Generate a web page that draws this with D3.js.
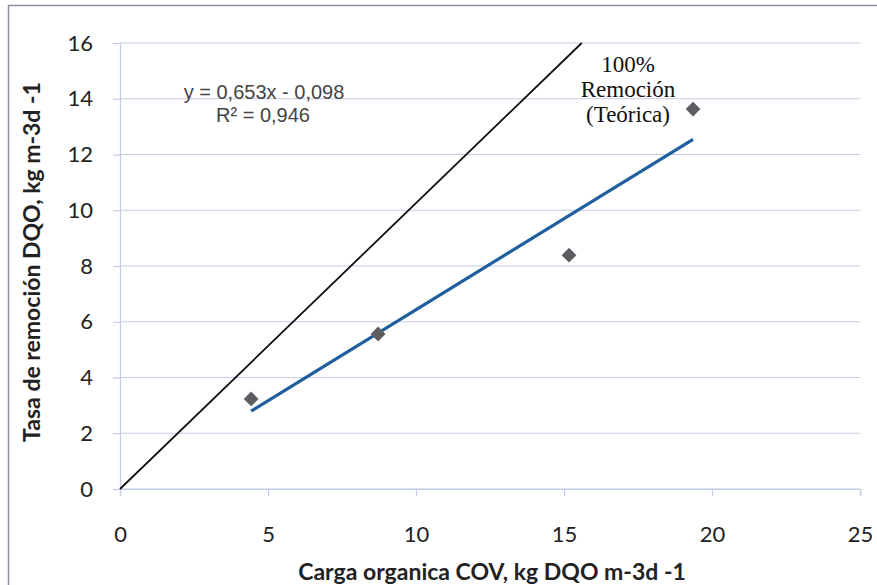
<!DOCTYPE html>
<html>
<head>
<meta charset="utf-8">
<script src="https://cdn.jsdelivr.net/npm/d3@7"></script>
<style>
  body { margin: 0; background: #fff; }
  svg { display: block; }
</style>
</head>
<body>
<svg id="chart" width="877" height="585"></svg>
<script>
// Measured points (Carga organica COV vs Tasa de remocion DQO)
const cargaCOV = [4.43, 8.72, 15.17, 19.36]
const tasaRemocion = [3.23, 5.56, 8.39, 13.63]

// Linear trend as printed on the chart
const trendSlope = 0.653
const trendIntercept = -0.098

// Theoretical 100% removal line, as drawn
const teoricaX = [0, 15.6]
const teoricaY = [0, 16]

const xTicks = [0, 5, 10, 15, 20, 25]
const yTicks = [0, 2, 4, 6, 8, 10, 12, 14, 16]

const svg = d3.select('#chart')

// outer frame (only top and left visible in the crop)
svg.append('path')
    .attr('d', 'M8.5,600 V5.5 H900')
    .attr('fill', 'none').attr('stroke', '#8a93a8').attr('stroke-width', 1.5)

const x = d3.scaleLinear().domain([0, 25]).range([120, 860])
const y = d3.scaleLinear().domain([0, 16]).range([489, 43])

const gridColor = '#c3cce6'
const tickFont = 'Lato, "Open Sans", sans-serif'

// horizontal gridlines
svg.append('g')
    .selectAll('line').data(yTicks).join('line')
    .attr('x1', x(0)).attr('x2', x(25))
    .attr('y1', d => y(d)).attr('y2', d => y(d))
    .attr('stroke', gridColor).attr('stroke-width', 1.2)

// y axis
const yAxis = svg.append('g')
    .attr('transform', `translate(${x(0)},0)`)
    .call(d3.axisLeft(y).tickValues(yTicks).tickSize(7).tickPadding(20))
yAxis.select('.domain').attr('stroke', gridColor).attr('stroke-width', 1.2)
yAxis.selectAll('.tick line').attr('stroke', gridColor).attr('stroke-width', 1.2)
yAxis.selectAll('.tick text')
    .attr('font-family', tickFont)
    .attr('font-size', 22).attr('fill', '#222')

// x axis
const xAxis = svg.append('g')
    .attr('transform', `translate(0,${y(0)})`)
    .call(d3.axisBottom(x).tickValues(xTicks).tickSize(7).tickPadding(30))
xAxis.select('.domain').attr('stroke', gridColor).attr('stroke-width', 1.2)
xAxis.selectAll('.tick line').attr('stroke', gridColor).attr('stroke-width', 1.2)
xAxis.selectAll('.tick text')
    .attr('font-family', tickFont)
    .attr('font-size', 22).attr('fill', '#222')

// axis titles
svg.append('text')
    .attr('transform', `translate(40,${(y(0) + y(16)) / 2 - 4}) rotate(-90)`)
    .attr('text-anchor', 'middle')
    .attr('font-family', tickFont)
    .attr('font-weight', 'bold').attr('font-size', 23).attr('fill', '#222')
    .text('Tasa de remoción DQO, kg m-3d -1')

svg.append('text')
    .attr('x', 492).attr('y', 580)
    .attr('text-anchor', 'middle')
    .attr('font-family', tickFont)
    .attr('font-weight', 'bold').attr('font-size', 23).attr('fill', '#222')
    .text('Carga organica COV, kg DQO m-3d -1')

// theoretical 100% line
svg.append('path')
    .datum(d3.zip(teoricaX, teoricaY))
    .attr('d', d3.line().x(d => x(d[0])).y(d => y(d[1])))
    .attr('fill', 'none').attr('stroke', '#111').attr('stroke-width', 1.8)

// trend line across the data range
const xr = d3.extent(cargaCOV)
svg.append('path')
    .datum(xr.map(v => [v, trendSlope * v + trendIntercept]))
    .attr('d', d3.line().x(d => x(d[0])).y(d => y(d[1])))
    .attr('fill', 'none').attr('stroke', '#1f5f9e').attr('stroke-width', 3.2)

// markers
svg.append('g')
    .selectAll('path').data(d3.zip(cargaCOV, tasaRemocion)).join('path')
    .attr('transform', d => `translate(${x(d[0])},${y(d[1])})`)
    .attr('d', d3.symbol(d3.symbolDiamond2, 140))
    .attr('fill', '#5b5d60')

// equation
const eq = svg.append('text')
    .attr('text-anchor', 'middle')
    .attr('font-family', '"Liberation Sans", Arial, sans-serif')
    .attr('font-size', 20).attr('fill', '#444')
eq.append('tspan').attr('x', 264).attr('y', 99).text('y = 0,653x - 0,098')
eq.append('tspan').attr('x', 263).attr('y', 122).text('R² = 0,946')

// annotation
const note = svg.append('text')
    .attr('text-anchor', 'middle')
    .attr('font-family', '"Liberation Serif", "Times New Roman", serif')
    .attr('font-size', 23).attr('fill', '#111')
;['100%', 'Remoción', '(Teórica)'].forEach((t, i) => {
    note.append('tspan').attr('x', 628).attr('y', 72 + i * 25).text(t)
})
</script>
</body>
</html>
